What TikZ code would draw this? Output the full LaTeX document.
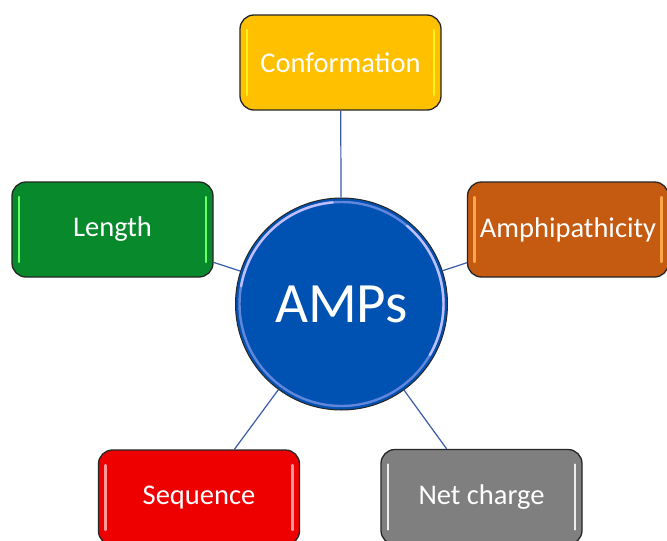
\documentclass[tikz,border=0pt]{standalone}
\usepackage{fontspec}
\setmainfont{Carlito}
\definecolor{cgold}{HTML}{FFC000}
\definecolor{cgreen}{HTML}{088A2C}
\definecolor{corange}{HTML}{C55A11}
\definecolor{cred}{HTML}{EE0000}
\definecolor{cgray}{HTML}{7F7F7F}
\definecolor{cblue}{HTML}{0052B2}
\definecolor{cline}{HTML}{3A5BA8}
\tikzset{
  factor/.style={draw=black!85, line width=1.3pt, rounded corners=14pt,
    minimum width=201pt, minimum height=95pt, inner sep=0pt,
    text=white, font=\fontsize{28.5}{31}\selectfont,
    path picture={
      \draw[#1, line width=2.2pt, line cap=round]
        ([shift={(7pt,-15pt)}]path picture bounding box.north west) --
        ([shift={(7pt,15pt)}]path picture bounding box.south west);
      \draw[#1, line width=2.2pt, line cap=round]
        ([shift={(-7pt,-15pt)}]path picture bounding box.north east) --
        ([shift={(-7pt,15pt)}]path picture bounding box.south east);
    }},
  hub/.style={circle, draw=black!85, line width=1pt, fill=cblue,
    minimum size=212pt, inner sep=0pt, text=white,
    font=\fontsize{57}{60}\selectfont},
  link/.style={draw=cline, line width=1.2pt},
  gloss/.style={line width=2.4pt, line cap=round}
}
\begin{document}
\begin{tikzpicture}[x=1pt,y=-1pt]
\clip (0,0) rectangle (667,541);
\fill[white] (0,0) rectangle (667,541);
% nodes
\node[factor=yellow!90!white, fill=cgold] (conf) at (340.5,62.5) {Conformation};
\node[factor={green!60!white}, fill=cgreen] (len) at (112.5,229.5) {Length};
\node[factor={orange!70!white}, fill=corange] (amph) at (568,229.5) {Amphipathicity};
\node[factor={red!40!white}, fill=cred] (seq) at (199,497.5) {Sequence};
\node[factor={white!85!gray}, fill=cgray] (net) at (481.5,497) {Net charge};
\node[hub] (amps) at (341.5,304) {AMPs};
% connectors
\draw[link] (amps) -- (conf);
\draw[link] (amps) -- (len);
\draw[link] (amps) -- (amph);
\draw[link] (amps) -- (seq);
\draw[link] (amps) -- (net);
% glossy ring on the hub
\draw[gloss, blue!30!white, opacity=0.55]
  ([shift={(0:102pt)}]amps.center) arc[start angle=0, end angle=360, radius=102pt];
\draw[gloss, blue!25!white]
  ([shift={(95:102pt)}]amps.center) arc[start angle=95, end angle=170, radius=102pt];
\draw[gloss, blue!25!white]
  ([shift={(-30:102pt)}]amps.center) arc[start angle=-30, end angle=50, radius=102pt];
\end{tikzpicture}
\end{document}
